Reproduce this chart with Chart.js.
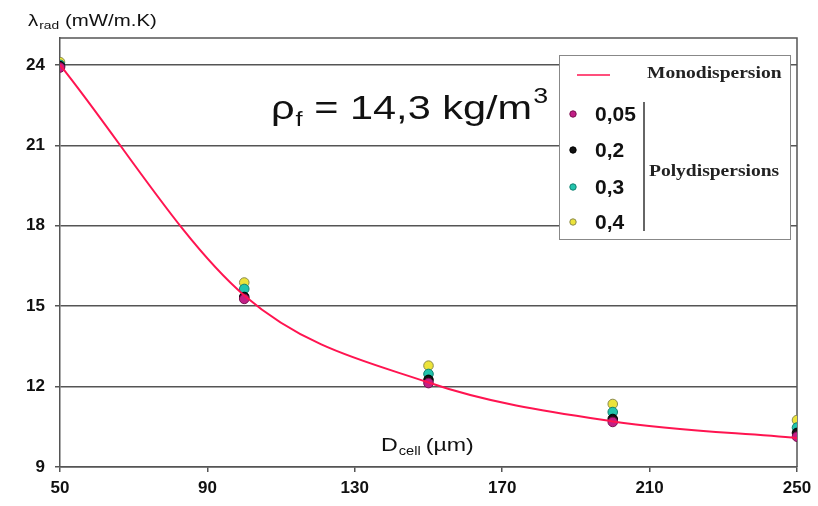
<!DOCTYPE html>
<html>
<head>
<meta charset="utf-8">
<script src="https://cdn.jsdelivr.net/npm/chart.js@4.4.1/dist/chart.umd.min.js"></script>
<style>
  html, body { margin: 0; padding: 0; background: #fff; }
  #wrap { width: 818px; height: 506px; position: relative; }
</style>
</head>
<body>
<div id="wrap"><canvas id="chart"></canvas></div>
<script>
// D_cell (µm)
const dCell = [50, 100, 150, 200, 250];
// lambda_rad (mW/m.K)
const mono = [24.0, 15.4, 12.15, 10.7, 10.08];
const poly005 = [23.9, 15.27, 12.13, 10.68, 10.13];
const poly02 = [23.95, 15.34, 12.25, 10.79, 10.27];
const poly03 = [24.0, 15.64, 12.47, 11.05, 10.47];
const poly04 = [24.1, 15.88, 12.78, 11.35, 10.75];
const polyLabels = ["0,05", "0,2", "0,3", "0,4"];
const yTicks = [9, 12, 15, 18, 21, 24];
const xTicks = [50, 90, 130, 170, 210, 250];

const pts = (ys) => dCell.map((x, i) => ({ x: x, y: ys[i] }));

const polyStyles = [
    { bg: "#c21f86", border: "#7a1050" },
    { bg: "#111111", border: "#000000" },
    { bg: "#22c4ad", border: "#138070" },
    { bg: "#ece33a", border: "#8a8a50" },
];
const polyData = [poly005, poly02, poly03, poly04];

const datasets = [{
    label: "Monodispersion",
    data: pts(mono),
    showLine: true,
    borderColor: "#ff1450",
    borderWidth: 2,
    pointRadius: 0,
    cubicInterpolationMode: "monotone",
}];
polyData.forEach((d, i) => {
    datasets.push({
        label: polyLabels[i],
        data: pts(d),
        backgroundColor: polyStyles[i].bg,
        borderColor: polyStyles[i].border,
        borderWidth: 1,
        pointRadius: 4.8,
        showLine: false,
    });
});

const GRID = "#555";
const SANS = "'Liberation Sans'";

// draws text stretched horizontally by sx, returns the x where it ends
function txt(ctx, s, x, y, font, sx) {
    sx = sx || 1;
    ctx.save();
    ctx.font = font;
    ctx.translate(x, y);
    ctx.scale(sx, 1);
    ctx.fillText(s, 0, 0);
    const w = ctx.measureText(s).width * sx;
    ctx.restore();
    return x + w;
}

const extras = {
    id: "extras",
    beforeDatasetsDraw(chart) {
        const { ctx, chartArea: a } = chart;
        ctx.save();
        ctx.strokeStyle = GRID;
        ctx.lineWidth = 1.5;
        ctx.beginPath();
        ctx.moveTo(a.left, a.top);
        ctx.lineTo(a.right, a.top);
        ctx.lineTo(a.right, a.bottom);
        ctx.stroke();
        ctx.restore();
    },
    afterDraw(chart) {
        const { ctx } = chart;
        ctx.save();
        ctx.fillStyle = "#111";
        ctx.textBaseline = "alphabetic";

        // y axis title
        let x = txt(ctx, "λ", 28, 26, "17px " + SANS, 1.2);
        x = txt(ctx, "rad", x + 1, 29, "11px " + SANS, 1.25);
        txt(ctx, "(mW/m.K)", x + 6, 26, "17px " + SANS, 1.2);

        // x axis title inside plot
        x = txt(ctx, "D", 381, 451, "19px " + SANS, 1.22);
        x = txt(ctx, "cell", x + 1, 455, "12px " + SANS, 1.22);
        txt(ctx, "(µm)", x + 5, 451, "19px " + SANS, 1.22);

        // density annotation
        x = txt(ctx, "ρ", 271, 119, "34px " + SANS, 1.22);
        x = txt(ctx, "f", x + 1, 126, "21px " + SANS, 1.22);
        x = txt(ctx, " = 14,3 kg/m", x, 119, "34px " + SANS, 1.22);
        txt(ctx, "3", x + 1, 103, "22px " + SANS, 1.22);

        // legend box
        ctx.fillStyle = "#fff";
        ctx.fillRect(559, 55, 232, 185);
        ctx.strokeStyle = "#888";
        ctx.lineWidth = 1;
        ctx.strokeRect(559.5, 55.5, 231, 184);

        ctx.strokeStyle = datasets[0].borderColor;
        ctx.lineWidth = 1.5;
        ctx.beginPath();
        ctx.moveTo(577, 75);
        ctx.lineTo(610, 75);
        ctx.stroke();

        ctx.fillStyle = "#222";
        ctx.textBaseline = "middle";
        txt(ctx, datasets[0].label, 647, 74, "bold 16px 'Liberation Serif'", 1.22);

        const rows = [114, 150, 187, 222];
        rows.forEach((y, i) => {
            const ds = datasets[i + 1];
            ctx.beginPath();
            ctx.arc(573, y, 3.2, 0, Math.PI * 2);
            ctx.fillStyle = ds.backgroundColor;
            ctx.fill();
            ctx.strokeStyle = ds.borderColor;
            ctx.lineWidth = 1;
            ctx.stroke();
            ctx.fillStyle = "#111";
            txt(ctx, ds.label, 595, y + 1, "bold 20px " + SANS, 1.05);
        });

        ctx.strokeStyle = "#333";
        ctx.lineWidth = 1.5;
        ctx.beginPath();
        ctx.moveTo(644, 102);
        ctx.lineTo(644, 231);
        ctx.stroke();

        ctx.fillStyle = "#222";
        txt(ctx, "Polydispersions", 649, 172, "bold 16px 'Liberation Serif'", 1.22);
        ctx.restore();
    }
};

new Chart(document.getElementById("chart"), {
    type: "scatter",
    data: { datasets: datasets },
    options: {
        responsive: true,
        maintainAspectRatio: false,
        animation: false,
        layout: { padding: { top: 38, right: 21, left: 0, bottom: 0 } },
        scales: {
            x: {
                type: "linear",
                min: 50,
                max: 250,
                afterBuildTicks: (s) => { s.ticks = xTicks.map(v => ({ value: v })); },
                afterFit: (s) => { s.height = 39; },
                grid: { drawOnChartArea: false, drawTicks: true, tickLength: 5, color: GRID, lineWidth: 1.5 },
                border: { color: GRID, width: 1.5 },
                ticks: {
                    padding: 6,
                    font: { family: SANS, size: 17, weight: "bold" },
                    color: "#111",
                },
            },
            y: {
                min: 9,
                max: 25,
                afterBuildTicks: (s) => { s.ticks = yTicks.map(v => ({ value: v })); },
                afterFit: (s) => { s.width = 60; },
                grid: { color: GRID, lineWidth: 1.5, drawTicks: true, tickLength: 5 },
                border: { color: GRID, width: 1.5 },
                ticks: {
                    padding: 10,
                    font: { family: SANS, size: 17, weight: "bold" },
                    color: "#111",
                },
            },
        },
        plugins: {
            legend: { display: false },
            tooltip: { enabled: false },
        },
    },
    plugins: [extras],
});
</script>
</body>
</html>
